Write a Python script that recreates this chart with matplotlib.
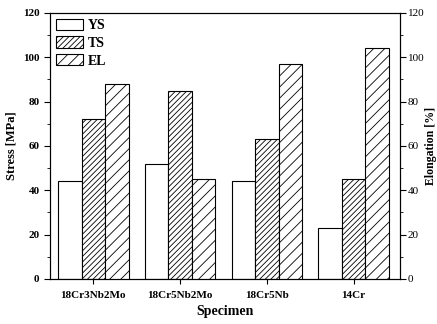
import matplotlib
matplotlib.use('Agg')
import matplotlib.pyplot as plt
import numpy as np
from matplotlib.ticker import MultipleLocator

# Mechanical properties of the ferritic specimens
specimens = ['18Cr3Nb2Mo', '18Cr5Nb2Mo', '18Cr5Nb', '14Cr']
ys = [44, 52, 44, 23]      # yield strength, MPa
ts = [72, 85, 63, 45]      # tensile strength, MPa
el = [88, 45, 97, 104]     # elongation, %

plt.rcParams['font.family'] = ['Liberation Serif', 'DejaVu Serif']
plt.rcParams['hatch.linewidth'] = 0.6

fig = plt.figure(figsize=(4.37, 3.24), dpi=100)
ax = fig.add_axes([0.1144, 0.139, 0.800, 0.821])
ax2 = ax.twinx()

x = np.arange(len(specimens))
w = 0.27

b1 = ax.bar(x - w, ys, w, color='white', edgecolor='black', linewidth=0.8, label='YS')
b2 = ax.bar(x, ts, w, color='white', edgecolor='black', linewidth=0.8, hatch='//////', label='TS')
b3 = ax2.bar(x + w, el, w, color='white', edgecolor='black', linewidth=0.8, hatch='///', label='EL')

for a in (ax, ax2):
    a.set_ylim(0, 120)
    a.yaxis.set_major_locator(MultipleLocator(20))
    a.yaxis.set_minor_locator(MultipleLocator(10))
ax.set_xlim(-0.5, 3.53)

ax.set_xticks(x)
ax.set_xticklabels(specimens, fontsize=8, fontweight='bold')
ax.tick_params(axis='x', pad=5)
ax.tick_params(axis='y', which='major', labelsize=8, direction='out', length=4)
ax.tick_params(axis='y', which='minor', direction='out', length=2)
for lab in ax.get_yticklabels():
    lab.set_fontweight('bold')
ax2.tick_params(axis='y', which='major', labelsize=8, direction='out', length=4, pad=2)
ax2.tick_params(axis='y', which='minor', direction='out', length=2)

ax.set_xlabel('Specimen', fontsize=10, fontweight='bold', labelpad=4)
ax.set_ylabel('Stress [MPa]', fontsize=9, fontweight='bold')
ax2.set_ylabel('Elongation [%]', fontsize=8.5, fontweight='bold', labelpad=0)

ax.legend(handles=[b1, b2, b3], loc='upper left', frameon=False,
          prop={'weight': 'bold', 'size': 10}, handlelength=2.0,
          handleheight=0.9, labelspacing=0.3, borderaxespad=0.2,
          borderpad=0.2, handletextpad=0.3)

fig.savefig('out.png', dpi=100)
